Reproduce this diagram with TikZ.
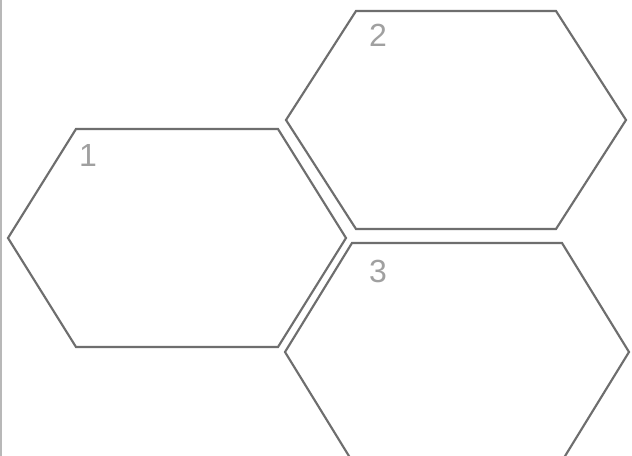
\documentclass[tikz,border=0pt]{standalone}
\usepackage{fontspec}
\setmainfont{Liberation Sans}
\definecolor{hexline}{HTML}{6E6E6E}
\definecolor{labgray}{HTML}{A0A0A0}
\definecolor{frame}{HTML}{B8B8B8}
\begin{document}
\begin{tikzpicture}[x=0.75pt,y=-0.75pt,
  hexpath/.style={draw=hexline,line width=1.6pt,line join=miter},
  hexlabel/.style={text=labgray,font=\fontsize{24}{24}\selectfont,inner sep=0pt}]
\useasboundingbox (0,0) rectangle (632,456);
\fill[white] (0,0) rectangle (632,456);
\draw[frame,line width=1.2pt] (0.8,0) -- (0.8,456);
\coordinate (h1) at (177,238);
\coordinate (h2) at (456,120);
\coordinate (h3) at (457,352);
% name / half width / top half width / half height
\foreach \c/\w/\t/\h in {h1/169/101/109, h2/170/100/109, h3/172/105/109}{
  \draw[hexpath] ([shift={(-\w,0)}]\c) -- ([shift={(-\t,-\h)}]\c) -- ([shift={(\t,-\h)}]\c)
    -- ([shift={(\w,0)}]\c) -- ([shift={(\t,\h)}]\c) -- ([shift={(-\t,\h)}]\c) -- cycle;
}
\node[hexlabel] (l1) at (88,155) {1};
\node[hexlabel] (l2) at (378,35) {2};
\node[hexlabel] (l3) at (378,271) {3};
\end{tikzpicture}
\end{document}
